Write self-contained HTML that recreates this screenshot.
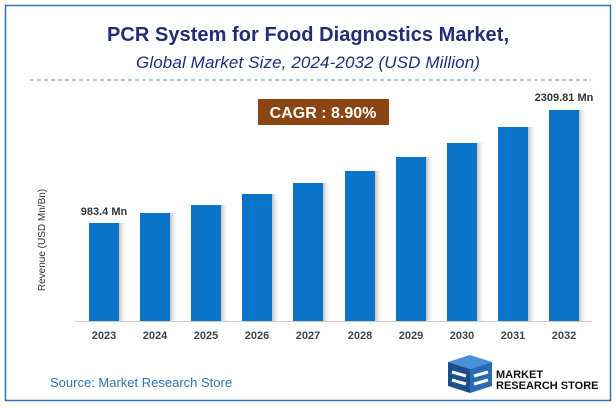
<!DOCTYPE html>
<html><head><meta charset="utf-8"><style>
body{margin:0;background:#fff;}
svg{display:block;font-family:"Liberation Sans",sans-serif;}
</style></head><body>
<svg width="616" height="408" viewBox="0 0 616 408">
<defs><linearGradient id="sh" x1="0" x2="1"><stop offset="0" stop-color="#999" stop-opacity="0.6"/><stop offset="1" stop-color="#fff" stop-opacity="0"/></linearGradient></defs>
<rect x="5.5" y="5.5" width="605" height="395" fill="#fff" stroke="#2e75b6" stroke-width="1.5"/>
<text x="308" y="41" text-anchor="middle" font-size="20" font-weight="bold" fill="#1f2d7a" textLength="402">PCR System for Food Diagnostics Market,</text>
<text x="308" y="68" text-anchor="middle" font-size="17" font-style="italic" fill="#1f2d7a" textLength="344">Global Market Size, 2024-2032 (USD Million)</text>
<line x1="30" y1="80" x2="591" y2="80" stroke="#5b8fc9" stroke-dasharray="4,3"/>
<rect x="258" y="99" width="131" height="26" fill="#8b4513"/>
<text x="323" y="118" text-anchor="middle" font-size="16" font-weight="bold" fill="#fff">CAGR :  8.90%</text>
<text x="45" y="240" text-anchor="middle" font-size="10" fill="#333" transform="rotate(-90 45 240)">Revenue (USD Mn/Bn)</text>
<g fill="url(#sh)">
<rect x="119" y="223" width="8" height="98"/><rect x="170" y="213" width="8" height="108"/><rect x="221" y="205" width="8" height="116"/><rect x="272" y="194" width="8" height="127"/><rect x="323" y="183" width="8" height="138"/><rect x="375" y="171" width="8" height="150"/><rect x="426" y="157" width="8" height="164"/><rect x="477" y="143" width="8" height="178"/><rect x="528" y="127" width="8" height="194"/><rect x="579" y="110" width="8" height="211"/>
</g>
<g fill="#0a74c9">
<rect x="89" y="223" width="30" height="98"/><rect x="140" y="213" width="30" height="108"/><rect x="191" y="205" width="30" height="116"/><rect x="242" y="194" width="30" height="127"/><rect x="293" y="183" width="30" height="138"/><rect x="345" y="171" width="30" height="150"/><rect x="396" y="157" width="30" height="164"/><rect x="447" y="143" width="30" height="178"/><rect x="498" y="127" width="30" height="194"/><rect x="549" y="110" width="30" height="211"/>
</g>
<line x1="75" y1="321.5" x2="592" y2="321.5" stroke="#ccc"/>
<text x="104" y="215" text-anchor="middle" font-size="11" font-weight="bold" fill="#333">983.4 Mn</text>
<text x="564" y="101" text-anchor="middle" font-size="11" font-weight="bold" fill="#333">2309.81 Mn</text>
<g font-size="11" font-weight="bold" fill="#444" text-anchor="middle">
<text x="104" y="339">2023</text><text x="155" y="339">2024</text><text x="206" y="339">2025</text><text x="257" y="339">2026</text><text x="308" y="339">2027</text><text x="360" y="339">2028</text><text x="411" y="339">2029</text><text x="462" y="339">2030</text><text x="513" y="339">2031</text><text x="564" y="339">2032</text>
</g>
<text x="50" y="387" font-size="13" fill="#2e75b6">Source: Market Research Store</text>
<g>
<polygon points="448,362 470,355 492,362 470,369" fill="#4a90d9"/>
<polygon points="448,362 470,369 470,393 448,386" fill="#1b4f8a"/>
<polygon points="470,369 492,362 492,386 470,393" fill="#2a6bb5"/>
<path d="M452,372 l14,4 M452,380 l14,4 M474,376 l14,-4 M474,384 l14,-4" stroke="#fff" stroke-width="3"/>
</g>
<text x="496" y="378" font-size="11" font-weight="bold" fill="#111">MARKET</text>
<text x="496" y="389" font-size="11" font-weight="bold" fill="#111">RESEARCH STORE</text>
</svg>
</body></html>
